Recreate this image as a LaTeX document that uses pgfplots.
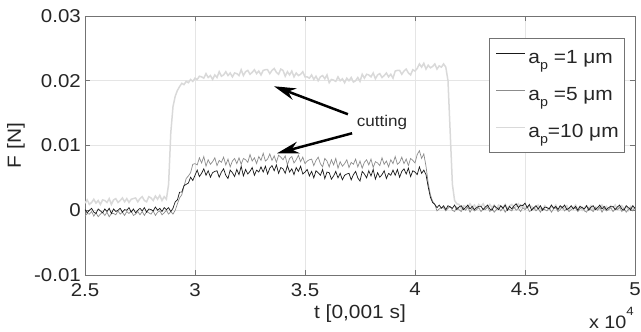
\documentclass[border=0pt]{standalone}
\usepackage{pgfplots}
\pgfplotsset{compat=1.18}
\usepackage{pgfplotstable}
\usetikzlibrary{arrows.meta}
\usepackage{fontspec}
\setmainfont{Liberation Sans}[FakeStretch=1.1]

\definecolor{axgray}{gray}{0.45}
\definecolor{gridgray}{gray}{0.9}
\definecolor{cK}{gray}{0.1}
\definecolor{cM}{gray}{0.55}
\definecolor{cL}{gray}{0.85}

\pgfplotstableread{
x L M K
2.50 0.0011 -0.0009 0.0001
2.51 0.0016 -0.0005 -0.0004
2.52 0.0009 -0.0006 0.0000
2.53 0.0012 -0.0002 0.0003
2.54 0.0017 -0.0009 -0.0003
2.55 0.0011 -0.0004 -0.0005
2.56 0.0015 -0.0010 0.0002
2.57 0.0009 -0.0006 -0.0001
2.58 0.0016 -0.0003 -0.0004
2.59 0.0015 -0.0008 0.0002
2.60 0.0012 -0.0003 -0.0002
2.61 0.0018 -0.0010 0.0003
2.62 0.0009 -0.0005 -0.0005
2.63 0.0016 -0.0005 0.0002
2.64 0.0018 -0.0007 -0.0002
2.65 0.0012 -0.0001 0.0000
2.66 0.0015 -0.0006 0.0003
2.67 0.0019 -0.0003 -0.0003
2.68 0.0013 -0.0008 0.0001
2.69 0.0018 -0.0002 0.0000
2.70 0.0012 -0.0005 0.0004
2.71 0.0017 -0.0001 -0.0003
2.72 0.0018 -0.0008 0.0002
2.73 0.0019 -0.0006 -0.0004
2.74 0.0013 -0.0002 0.0000
2.75 0.0018 -0.0007 0.0003
2.76 0.0021 -0.0002 -0.0001
2.77 0.0015 -0.0008 0.0004
2.78 0.0013 -0.0002 -0.0003
2.79 0.0021 -0.0004 0.0002
2.80 0.0019 -0.0006 0.0001
2.81 0.0015 -0.0001 -0.0001
2.82 0.0022 -0.0008 0.0005
2.83 0.0017 -0.0003 0.0000
2.84 0.0023 -0.0001 0.0003
2.85 0.0015 -0.0007 -0.0002
2.86 0.0021 -0.0004 0.0004
2.87 0.0017 0.0000 0.0001
2.88 0.0040 -0.0006 0.0004
2.89 0.0120 -0.0002 -0.0002
2.90 0.0160 -0.0006 0.0003
2.91 0.0176 0.0000 0.0013
2.92 0.0185 0.0010 0.0016
2.93 0.0191 0.0019 0.0028
2.94 0.0196 0.0024 0.0028
2.95 0.0194 0.0037 0.0038
2.96 0.0199 0.0049 0.0040
2.97 0.0197 0.0053 0.0042
2.98 0.0202 0.0058 0.0051
2.99 0.0199 0.0071 0.0046
3.00 0.0204 0.0072 0.0054
3.01 0.0202 0.0070 0.0062
3.02 0.0207 0.0081 0.0052
3.03 0.0206 0.0073 0.0057
3.04 0.0204 0.0083 0.0064
3.05 0.0211 0.0068 0.0054
3.06 0.0205 0.0078 0.0061
3.07 0.0208 0.0071 0.0051
3.08 0.0202 0.0075 0.0058
3.09 0.0209 0.0081 0.0060
3.10 0.0205 0.0069 0.0061
3.11 0.0214 0.0077 0.0051
3.12 0.0207 0.0074 0.0059
3.13 0.0209 0.0082 0.0064
3.14 0.0214 0.0070 0.0054
3.15 0.0208 0.0079 0.0049
3.16 0.0212 0.0067 0.0062
3.17 0.0206 0.0076 0.0058
3.18 0.0212 0.0080 0.0052
3.19 0.0211 0.0072 0.0063
3.20 0.0208 0.0081 0.0055
3.21 0.0217 0.0071 0.0068
3.22 0.0208 0.0080 0.0053
3.23 0.0214 0.0078 0.0063
3.24 0.0216 0.0074 0.0056
3.25 0.0210 0.0086 0.0060
3.26 0.0213 0.0076 0.0066
3.27 0.0217 0.0081 0.0054
3.28 0.0211 0.0072 0.0062
3.29 0.0215 0.0083 0.0059
3.30 0.0209 0.0077 0.0067
3.31 0.0216 0.0088 0.0059
3.32 0.0217 0.0076 0.0068
3.33 0.0217 0.0079 0.0056
3.34 0.0211 0.0087 0.0065
3.35 0.0216 0.0077 0.0069
3.36 0.0219 0.0084 0.0061
3.37 0.0213 0.0074 0.0070
3.38 0.0210 0.0085 0.0057
3.39 0.0218 0.0082 0.0066
3.40 0.0216 0.0078 0.0064
3.41 0.0207 0.0084 0.0057
3.42 0.0214 0.0070 0.0069
3.43 0.0209 0.0080 0.0059
3.44 0.0215 0.0083 0.0064
3.45 0.0206 0.0073 0.0055
3.46 0.0212 0.0078 0.0066
3.47 0.0208 0.0085 0.0060
3.48 0.0210 0.0075 0.0068
3.49 0.0214 0.0082 0.0056
3.50 0.0206 0.0072 0.0059
3.51 0.0206 0.0076 0.0063
3.52 0.0204 0.0078 0.0053
3.53 0.0209 0.0079 0.0060
3.54 0.0202 0.0069 0.0050
3.55 0.0207 0.0077 0.0061
3.56 0.0200 0.0082 0.0058
3.57 0.0206 0.0072 0.0054
3.58 0.0208 0.0067 0.0063
3.59 0.0203 0.0080 0.0049
3.60 0.0209 0.0076 0.0059
3.61 0.0197 0.0067 0.0058
3.62 0.0202 0.0078 0.0048
3.63 0.0201 0.0070 0.0053
3.64 0.0199 0.0080 0.0060
3.65 0.0206 0.0065 0.0050
3.66 0.0200 0.0075 0.0057
3.67 0.0203 0.0068 0.0047
3.68 0.0197 0.0072 0.0054
3.69 0.0204 0.0078 0.0056
3.70 0.0200 0.0066 0.0057
3.71 0.0205 0.0074 0.0047
3.72 0.0198 0.0071 0.0055
3.73 0.0200 0.0079 0.0060
3.74 0.0205 0.0067 0.0050
3.75 0.0199 0.0076 0.0045
3.76 0.0210 0.0065 0.0060
3.77 0.0204 0.0074 0.0056
3.78 0.0210 0.0078 0.0050
3.79 0.0209 0.0070 0.0061
3.80 0.0206 0.0079 0.0053
3.81 0.0212 0.0066 0.0063
3.82 0.0203 0.0075 0.0048
3.83 0.0209 0.0073 0.0058
3.84 0.0211 0.0069 0.0051
3.85 0.0205 0.0081 0.0055
3.86 0.0208 0.0071 0.0061
3.87 0.0212 0.0076 0.0049
3.88 0.0206 0.0067 0.0057
3.89 0.0210 0.0078 0.0054
3.90 0.0204 0.0072 0.0062
3.91 0.0215 0.0083 0.0054
3.92 0.0216 0.0071 0.0063
3.93 0.0216 0.0074 0.0051
3.94 0.0210 0.0082 0.0060
3.95 0.0215 0.0072 0.0064
3.96 0.0218 0.0079 0.0056
3.97 0.0212 0.0069 0.0065
3.98 0.0209 0.0080 0.0052
3.99 0.0217 0.0077 0.0061
4.00 0.0215 0.0073 0.0059
4.01 0.0219 0.0086 0.0055
4.02 0.0226 0.0092 0.0067
4.03 0.0221 0.0080 0.0057
4.04 0.0227 0.0087 0.0062
4.05 0.0218 0.0068 0.0055
4.06 0.0224 0.0042 0.0036
4.07 0.0220 0.0024 0.0020
4.08 0.0222 0.0014 0.0012
4.09 0.0226 0.0009 0.0009
4.10 0.0218 -0.0001 0.0004
4.11 0.0223 0.0002 0.0008
4.12 0.0221 0.0004 0.0003
4.13 0.0226 0.0004 0.0007
4.14 0.0221 -0.0001 0.0001
4.15 0.0200 0.0003 0.0007
4.16 0.0120 0.0006 0.0005
4.17 0.0040 0.0000 0.0003
4.18 0.0015 -0.0002 0.0008
4.19 0.0010 0.0005 0.0001
4.20 0.0009 0.0001 0.0005
4.21 0.0002 -0.0002 0.0007
4.22 0.0007 0.0004 0.0001
4.23 0.0006 0.0000 0.0004
4.24 0.0004 0.0005 0.0008
4.25 0.0010 -0.0003 0.0002
4.26 0.0005 0.0003 0.0006
4.27 0.0008 -0.0001 0.0001
4.28 0.0003 0.0001 0.0004
4.29 0.0009 0.0004 0.0006
4.30 0.0006 -0.0002 0.0006
4.31 0.0010 0.0002 0.0001
4.32 0.0003 0.0001 0.0005
4.33 0.0005 0.0005 0.0008
4.34 0.0009 -0.0002 0.0002
4.35 0.0004 0.0003 0.0000
4.36 0.0008 -0.0003 0.0007
4.37 0.0002 0.0001 0.0004
4.38 0.0008 0.0004 0.0001
4.39 0.0006 -0.0001 0.0007
4.40 0.0004 0.0004 0.0003
4.41 0.0009 -0.0003 0.0008
4.42 0.0002 0.0002 0.0000
4.43 0.0007 0.0001 0.0006
4.44 0.0009 -0.0001 0.0002
4.45 0.0003 0.0005 0.0007
4.46 0.0006 0.0000 0.0010
4.47 0.0010 0.0003 0.0004
4.48 0.0004 -0.0002 0.0008
4.49 0.0008 0.0004 0.0007
4.50 0.0003 0.0001 0.0011
4.51 0.0004 0.0005 0.0004
4.52 0.0006 -0.0002 0.0009
4.53 0.0006 0.0000 0.0000
4.54 0.0001 0.0004 0.0004
4.55 0.0005 -0.0001 0.0007
4.56 0.0008 0.0003 0.0002
4.57 0.0002 -0.0003 0.0007
4.58 0.0000 0.0003 0.0000
4.59 0.0007 0.0001 0.0005
4.60 0.0004 -0.0001 0.0004
4.61 0.0001 0.0004 0.0002
4.62 0.0007 -0.0003 0.0008
4.63 0.0003 0.0002 0.0003
4.64 0.0008 0.0004 0.0006
4.65 0.0000 -0.0002 0.0001
4.66 0.0006 0.0001 0.0007
4.67 0.0002 0.0005 0.0004
4.68 0.0004 -0.0001 0.0008
4.69 0.0007 0.0003 0.0001
4.70 0.0001 -0.0002 0.0003
4.71 0.0005 0.0001 0.0007
4.72 0.0004 0.0003 0.0002
4.73 0.0008 0.0003 0.0006
4.74 0.0001 -0.0002 0.0000
4.75 0.0006 0.0002 0.0006
4.76 0.0000 0.0005 0.0004
4.77 0.0004 -0.0001 0.0002
4.78 0.0007 -0.0003 0.0007
4.79 0.0002 0.0004 0.0000
4.80 0.0007 0.0001 0.0005
4.81 0.0000 -0.0002 0.0007
4.82 0.0005 0.0004 0.0001
4.83 0.0004 0.0000 0.0004
4.84 0.0002 0.0005 0.0008
4.85 0.0008 -0.0003 0.0002
4.86 0.0003 0.0003 0.0006
4.87 0.0006 -0.0001 0.0001
4.88 0.0001 0.0001 0.0004
4.89 0.0007 0.0004 0.0006
4.90 0.0004 -0.0002 0.0006
4.91 0.0008 0.0002 0.0001
4.92 0.0001 0.0001 0.0005
4.93 0.0003 0.0005 0.0008
4.94 0.0007 -0.0002 0.0002
4.95 0.0002 0.0003 0.0000
4.96 0.0006 -0.0003 0.0007
4.97 0.0000 0.0001 0.0004
4.98 0.0006 0.0004 0.0001
4.99 0.0004 -0.0001 0.0007
5.00 0.0002 0.0004 0.0003
}\datatable

\begin{document}
\begin{tikzpicture}
\path[use as bounding box] (-85bp,-57bp) rectangle (556bp,275bp);
\begin{axis}[
  at={(0,0)}, anchor=south west,
  scale only axis, width=550bp, height=259bp,
  xmin=2.5, xmax=5, ymin=-0.01, ymax=0.03,
  scaled ticks=false,
  xtick={2.5,3,3.5,4,4.5,5}, xticklabels={2.5,3,3.5,4,4.5,5},
  ytick={-0.01,0,0.01,0.02,0.03}, yticklabels={-0.01,0,0.01,0.02,0.03},
  grid=major, major grid style={gridgray, line width=0.6bp},
  axis line style={axgray, line width=0.8bp},
  tick style={axgray, line width=0.8bp},
  tick align=inside, major tick length=5bp,
  ticklabel style={font=\fontsize{18.6bp}{20bp}\selectfont, text=black!85},
  xticklabel style={inner sep=0pt, anchor=north, yshift=-8bp},
  yticklabel style={inner sep=0pt, anchor=east, xshift=-4bp},
  xlabel={t [0,001 s]},
  xlabel style={at={(axis description cs:0.5,-0.1158)}, anchor=north, inner sep=0pt, font=\fontsize{19bp}{20bp}\selectfont, text=black!85},
  ylabel={F [N]},
  ylabel style={at={(axis description cs:-0.1255,0.5)}, anchor=center, inner sep=0pt, font=\fontsize{19bp}{20bp}\selectfont, text=black!85},
  legend cell align=left,
  legend image code/.code={\draw[#1] (0bp,5bp) -- (29bp,5bp);},
  legend style={at={(0.982,0.915)}, anchor=north east, draw=axgray, line width=0.8bp, fill=white,
    inner xsep=6bp, inner ysep=12bp, row sep=21bp,
    font=\fontsize{19bp}{20bp}\selectfont, text=black!85,
    nodes={inner sep=0pt, text height=13bp, text depth=3bp},
    /tikz/every odd column/.append style={column sep=3bp}},
]
\addlegendimage{cK, line width=0.6bp}
\addlegendentry{a\raisebox{-6bp}{\fontsize{13bp}{13bp}\selectfont p} =1 μm}
\addlegendimage{cM, line width=0.6bp}
\addlegendentry{a\raisebox{-6bp}{\fontsize{13bp}{13bp}\selectfont p} =5 μm}
\addlegendimage{cL, line width=0.6bp}
\addlegendentry{a\raisebox{-6bp}{\fontsize{13bp}{13bp}\selectfont p}=10 μm}

\addplot[cL, line width=1.5bp, forget plot] table[x=x, y=L] {\datatable};
\addplot[cM, line width=0.7bp, forget plot] table[x=x, y=M] {\datatable};
\addplot[cK, line width=0.7bp, forget plot] table[x=x, y=K] {\datatable};

\draw[line width=2.5bp, -{Stealth[length=22bp, width=12bp, inset=7bp]}] (axis cs:3.695,0.01483) -- (axis cs:3.359,0.01915);
\draw[line width=2.5bp, -{Stealth[length=22bp, width=12bp, inset=7bp]}] (axis cs:3.714,0.01189) -- (axis cs:3.373,0.0088);
\node[font=\fontsize{15.5bp}{16bp}\selectfont, text=black!85] at (axis cs:3.85,0.0136) {cutting};
\end{axis}
\node[anchor=base east, inner sep=0pt, font=\fontsize{18bp}{19bp}\selectfont, text=black!85] at (549bp,-53bp) {x 10\raisebox{13bp}{\fontsize{12bp}{12bp}\selectfont 4}};
\end{tikzpicture}
\end{document}
